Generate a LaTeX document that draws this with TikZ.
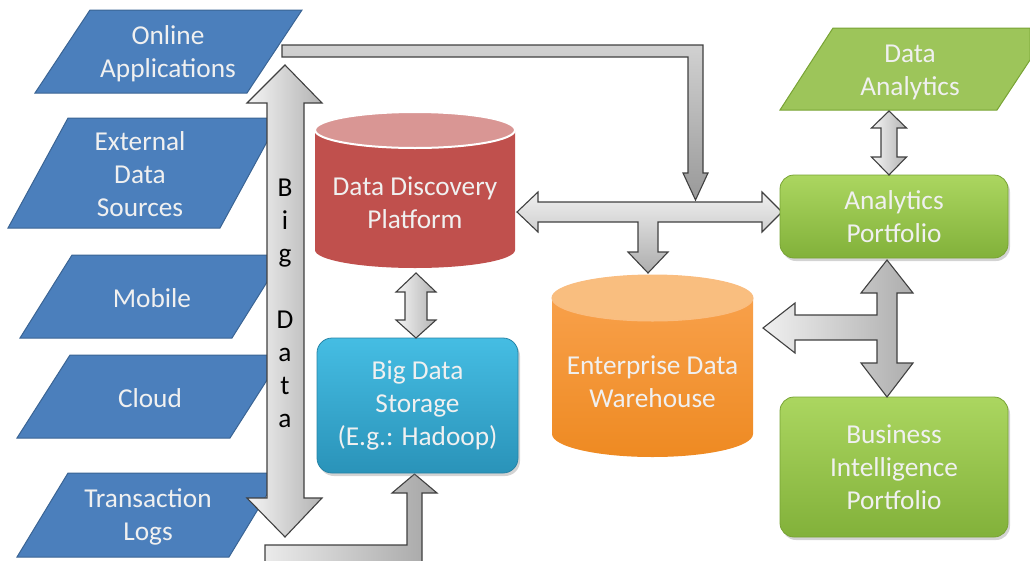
\documentclass[tikz,border=0pt]{standalone}
\usepackage{fontspec}
\setmainfont{Carlito}
\usetikzlibrary{shadows}
\definecolor{bluef}{HTML}{4B7FBC}
\definecolor{blued}{HTML}{3A6494}
\definecolor{redf}{HTML}{C0504D}
\definecolor{redt}{HTML}{D99694}
\definecolor{oranget}{HTML}{F9BE7F}
\definecolor{orangea}{HTML}{F8A04A}
\definecolor{orangeb}{HTML}{EE8A22}
\definecolor{cyana}{HTML}{45BDE3}
\definecolor{cyanb}{HTML}{2A93B9}
\definecolor{cyand}{HTML}{2784A6}
\definecolor{greena}{HTML}{ABD660}
\definecolor{greenb}{HTML}{82B13A}
\definecolor{greend}{HTML}{78A334}
\definecolor{greenp}{HTML}{9DC55A}
\begin{document}
\begin{tikzpicture}[x=1pt,y=-1pt,
  lbl/.style={text=white!94!black, font=\fontsize{27.3}{33}\selectfont, align=center, inner sep=0pt},
  para/.style={fill=bluef, draw=blued, line width=1pt, line join=miter},
  gpara/.style={fill=greenp, draw=greend, line width=1pt},
  blockarrow/.style={draw=black!75, line width=1.1pt, line join=miter},
  vshade/.style={left color=black!4, right color=black!30},
  hshade/.style={top color=black!6, bottom color=black!32},
  greenbox/.style={rounded corners=14pt, draw=greend, line width=0.8pt, top color=greena, bottom color=greenb,
    minimum width=228pt, drop shadow={opacity=0.35, shadow xshift=2pt, shadow yshift=-3pt}},
]
\useasboundingbox (0,0) rectangle (1030,560);
\clip (0,0) rectangle (1030,560);

% ---- left source parallelograms ----
\draw[para] (90,10) -- (302,10) -- (247,93) -- (35,93) -- cycle;
\node[lbl] (online) at (168,54) {Online\\Applications};
\draw[para] (68,118) -- (280,118) -- (220,228) -- (8,228) -- cycle;
\node[lbl] (external) at (140,174) {External\\Data\\Sources};
\draw[para] (72,255) -- (284,255) -- (232,338) -- (20,338) -- cycle;
\node[lbl] (mobile) at (152,298) {Mobile};
\draw[para] (70,355) -- (283,355) -- (230,438) -- (17,438) -- cycle;
\node[lbl] (cloud) at (150,398) {Cloud};
\draw[para] (68,473) -- (280,473) -- (229,557) -- (17,557) -- cycle;
\node[lbl] (translogs) at (148,517) {Transaction\\Logs};

% ---- Big Data double arrow ----
\draw[blockarrow, vshade] (285,65) -- (322,103) -- (304,103) -- (304,498) -- (322,498) -- (285,537)
  -- (247,498) -- (267,498) -- (267,103) -- (247,103) -- cycle;
\node[font=\fontsize{27.3}{33}\selectfont, align=center, inner sep=0pt, text=black] (bigdata) at (285,303)
  {B\\i\\g\\[33pt]D\\a\\t\\a};

% ---- top pipe from Online Applications ----
\draw[blockarrow, top color=black!18, bottom color=black!40] (282,45) -- (703,45) -- (703,173) -- (708,173) -- (695.5,200)
  -- (683,173) -- (688,173) -- (688,57) -- (282,57) -- cycle;

% ---- bottom pipe from Transaction Logs ----
\draw[blockarrow, left color=black!8, right color=black!35] (265,545) -- (407,545) -- (407,493) -- (392,493) -- (414.5,474)
  -- (437,493) -- (422,493) -- (422,575) -- (265,575) -- cycle;

% ---- Data Discovery Platform cylinder ----
\fill[redf] (315,130) -- (315,250) arc[start angle=180, end angle=360, x radius=100pt, y radius=18pt] -- (515,130) -- cycle;
\draw[fill=redt, draw=white, line width=2pt] (415,130) ellipse [x radius=100pt, y radius=18pt];
\node[lbl] (ddp) at (415,203) {Data Discovery\\Platform};

% ---- Enterprise Data Warehouse cylinder ----
\shade[top color=orangea, bottom color=orangeb] (552,298) -- (552,434) arc[start angle=180, end angle=360, x radius=100.5pt, y radius=23pt] -- (753,298) -- cycle;
\draw[fill=oranget, draw=orangea!70!white, line width=1pt] (652.5,298) ellipse [x radius=100.5pt, y radius=23pt];
\node[lbl] (edw) at (652.5,382) {Enterprise Data\\Warehouse};

% ---- Big Data Storage ----
\node[lbl, rounded corners=15pt, draw=cyand, line width=0.8pt, top color=cyana, bottom color=cyanb,
  minimum width=201pt, minimum height=135pt, drop shadow={opacity=0.35, shadow xshift=2pt, shadow yshift=-3pt}]
  (bds) at (417.5,405.5) {Big Data\\Storage\\(E.g.: Hadoop)};

% ---- DDP <-> BDS arrow ----
\draw[blockarrow, vshade] (416,273) -- (436,292) -- (427,292) -- (427,320) -- (436,320) -- (416,338)
  -- (396,320) -- (405,320) -- (405,292) -- (396,292) -- cycle;

% ---- horizontal double arrow with tee to EDW ----
\draw[blockarrow, hshade] (517,212) -- (538,192) -- (538,202) -- (762,202) -- (762,192) -- (782,212)
  -- (762,232) -- (762,222) -- (658,222) -- (658,252) -- (668,252) -- (648,273) -- (628,252)
  -- (638,252) -- (638,222) -- (538,222) -- (538,232) -- cycle;

% ---- right side ----
\draw[gpara] (833,28) -- (1030,28) -- (1030,60) -- (997,110) -- (780,110) -- cycle;
\node[lbl] (da) at (910,72) {Data\\Analytics};

\node[lbl, greenbox, minimum height=83pt] (ap) at (894,216.5) {Analytics\\Portfolio};
\node[lbl, greenbox, minimum height=140pt] (bi) at (894,467) {Business\\Intelligence\\Portfolio};

% DA <-> AP
\draw[blockarrow, vshade] (889,111) -- (906.5,128) -- (897,128) -- (897,157) -- (906.5,157) -- (889,175)
  -- (871.5,157) -- (881,157) -- (881,128) -- (871.5,128) -- cycle;

% AP <-> BI with branch to EDW
\draw[blockarrow, left color=black!6, right color=black!32] (887,260) -- (913,293) -- (897,293) -- (897,363) -- (913,363) -- (887,397)
  -- (861,363) -- (877,363) -- (877,340) -- (795,340) -- (795,353) -- (763,328) -- (795,303)
  -- (795,315) -- (877,315) -- (877,293) -- (861,293) -- cycle;
\end{tikzpicture}
\end{document}
